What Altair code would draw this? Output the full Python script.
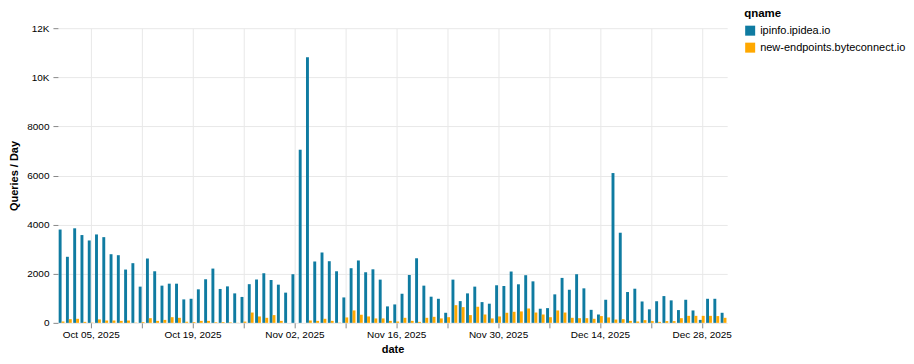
import altair as alt
import pandas as pd

dates = pd.date_range("2025-10-01", "2025-12-31", freq="D").strftime("%Y-%m-%d").tolist()

ipinfo = [
    # Oct
    3800, 2690, 3850, 3575, 3355, 3600, 3490, 2795, 2755, 2170, 2430, 1475, 2620, 2100, 1515, 1595,
    1595, 955, 980, 1365, 1775, 2210, 1380, 1485, 1200, 1055, 1575, 1765, 2020, 1745, 1555,
    # Nov
    1230, 1980, 7050, 10820, 2500, 2865, 2510, 2100, 1035, 2225, 2540, 2060, 2180, 1760, 670,
    750, 1185, 1950, 2630, 1515, 1065, 980, 410, 1760, 885, 1200, 1475, 845, 780, 1530,
    # Dec
    1500, 2090, 1570, 1940, 1690, 575, 600, 1160, 1830, 1350, 1980, 1405, 530, 340, 940, 6100,
    3670, 1255, 1390, 870, 550, 880, 1090, 915, 520, 940, 505, 120, 980, 980, 410,
]

byteconnect = [
    # Oct
    55, 150, 165, 40, 10, 140, 95, 95, 80, 95, 10, 30, 190, 80, 120, 230,
    205, 40, 30, 80, 80, 25, 30, 20, 5, 50, 420, 260, 205, 315, 80,
    # Nov
    0, 0, 0, 95, 80, 165, 80, 10, 220, 505, 330, 260, 180, 180, 80,
    55, 205, 80, 40, 205, 245, 180, 230, 720, 640, 315, 655, 340, 180, 260,
    # Dec
    410, 450, 465, 585, 420, 340, 230, 505, 420, 205, 190, 190, 165, 275, 220, 135,
    150, 80, 55, 110, 70, 40, 70, 70, 190, 285, 285, 285, 285, 275, 205,
]

series_names = ["ipinfo.ipidea.io", "new-endpoints.byteconnect.io"]
series_colors = ["#0f7ba1", "#ffa800"]
y_ticks = [0, 2000, 4000, 6000, 8000, 10000, 12000]

rows = []
for d, a, b in zip(dates, ipinfo, byteconnect):
    rows.append({"date": d, "qname": series_names[0], "count": a})
    rows.append({"date": d, "qname": series_names[1], "count": b})
df = pd.DataFrame(rows)

font = "Liberation Sans"

chart = (
    alt.Chart(df)
    .mark_bar()
    .encode(
        x=alt.X(
            "yearmonthdate(date):T",
            title="date",
            bandPosition=0,
            axis=alt.Axis(format="%b %d, %Y", labelFontSize=10, titleFontSize=11),
        ),
        xOffset=alt.XOffset("qname:N", sort=series_names),
        y=alt.Y(
            "count:Q",
            title="Queries / Day",
            scale=alt.Scale(domain=[0, 12000]),
            axis=alt.Axis(
                values=y_ticks,
                labelExpr="datum.value >= 10000 ? (datum.value / 1000) + 'K' : '' + datum.value",
                labelFontSize=10,
                titleFontSize=11,
                titlePadding=7,
                labelPadding=4,
            ),
        ),
        color=alt.Color(
            "qname:N",
            sort=series_names,
            scale=alt.Scale(domain=series_names, range=series_colors),
            legend=alt.Legend(
                title="qname",
                orient="none",
                legendX=687,
                legendY=-20,
                symbolType="square",
                symbolSize=100,
                rowPadding=6,
                labelFontSize=11,
                titleFontSize=11.5,
            ),
        ),
    )
    .properties(width=670, height=295, padding={"left": 0, "top": 0, "right": 0, "bottom": 5})
    .configure(font=font)
    .configure_axis(gridColor="#e8e8e8", domain=False)
    .configure_view(stroke=None)
)

chart.save("out.html", embed_options={"renderer": "svg", "actions": False})
